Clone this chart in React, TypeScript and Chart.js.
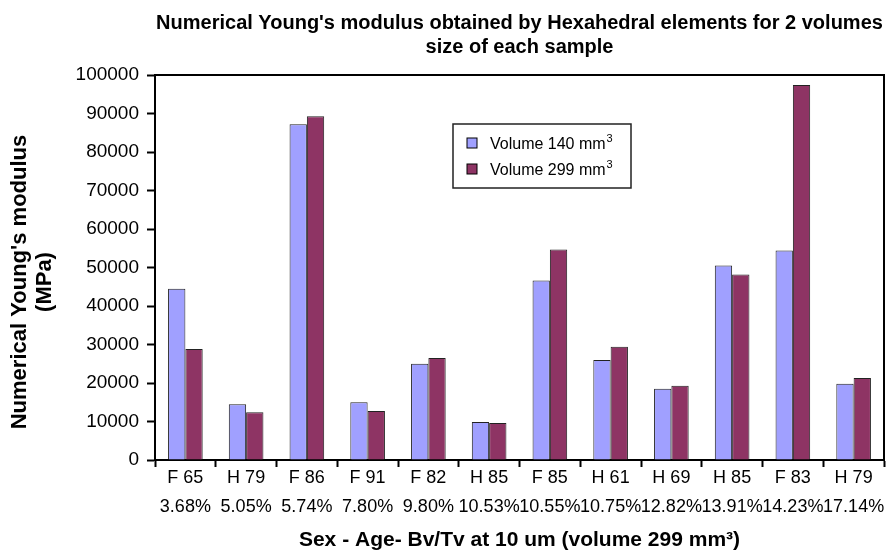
import React, { useEffect, useRef } from "react";
import { Chart, registerables } from "chart.js";

Chart.register(...registerables);

const categories: string[][] = [
  ["F 65", "3.68%"],
  ["H 79", "5.05%"],
  ["F 86", "5.74%"],
  ["F 91", "7.80%"],
  ["F 82", "9.80%"],
  ["H 85", "10.53%"],
  ["F 85", "10.55%"],
  ["H 61", "10.75%"],
  ["H 69", "12.82%"],
  ["H 85", "13.91%"],
  ["F 83", "14.23%"],
  ["H 79", "17.14%"],
];

const volume140: number[] = [44500, 14500, 87200, 15000, 25000, 9900, 46600, 26000, 18500, 50500, 54400, 19800];
const volume299: number[] = [28800, 12400, 89300, 12700, 26500, 9600, 54700, 29400, 19300, 48200, 97400, 21300];

const seriesNames = ["Volume 140 mm", "Volume 299 mm"];
const seriesSup = "3";
const seriesColors = ["#a0a0ff", "#8e3464"];

const titleLines = [
  "Numerical Young's modulus obtained by Hexahedral elements for 2 volumes",
  "size of each sample",
];
const yTitle = ["Numerical Young's modulus", "(MPa)"];
const xTitle = "Sex - Age- Bv/Tv at 10 um (volume 299 mm³)";

const FONT = "'Liberation Sans', Arial, sans-serif";

const framePlugin = {
  id: "frame",
  afterDraw(chart: any) {
    const { ctx, chartArea } = chart;
    ctx.save();
    ctx.strokeStyle = "#000";
    ctx.lineWidth = 2;
    ctx.beginPath();
    ctx.moveTo(chartArea.left, chartArea.top);
    ctx.lineTo(chartArea.right, chartArea.top);
    ctx.lineTo(chartArea.right, chartArea.bottom);
    ctx.stroke();

    // y-axis title (two lines, rotated)
    ctx.save();
    ctx.fillStyle = "#000";
    ctx.font = `bold 22px ${FONT}`;
    ctx.textAlign = "center";
    ctx.textBaseline = "middle";
    yTitle.forEach((t, i) => {
      ctx.save();
      ctx.translate(20 + i * 25, 282);
      ctx.rotate(-Math.PI / 2);
      ctx.fillText(t, 0, 0);
      ctx.restore();
    });
    ctx.restore();

    // legend box
    const x = 453, y = 124, w = 178, h = 64;
    ctx.fillStyle = "#fff";
    ctx.fillRect(x, y, w, h);
    ctx.lineWidth = 1.5;
    ctx.strokeStyle = "#222";
    ctx.strokeRect(x, y, w, h);
    ctx.textAlign = "left";
    ctx.textBaseline = "alphabetic";
    seriesNames.forEach((lab, i) => {
      const cy = y + 19 + i * 26;
      ctx.fillStyle = seriesColors[i];
      ctx.fillRect(x + 14, cy - 5, 10, 10);
      ctx.lineWidth = 1;
      ctx.strokeStyle = "#000";
      ctx.strokeRect(x + 14, cy - 5, 10, 10);
      ctx.fillStyle = "#000";
      ctx.font = `16px ${FONT}`;
      ctx.fillText(lab, x + 37, cy + 6);
      const wLab = ctx.measureText(lab).width;
      ctx.font = `11px ${FONT}`;
      ctx.fillText(seriesSup, x + 37 + wLab + 1, cy - 1);
    });
    ctx.restore();
  },
};

export default function App() {
  const ref = useRef<HTMLCanvasElement | null>(null);
  useEffect(() => {
    if (!ref.current) return;
    const chart = new Chart(ref.current, {
      type: "bar",
      data: {
        labels: categories,
        datasets: [
          {
            label: seriesNames[0] + "³",
            data: volume140,
            backgroundColor: seriesColors[0],
            borderColor: "#222",
            borderWidth: 1,
          },
          {
            label: seriesNames[1] + "³",
            data: volume299,
            backgroundColor: seriesColors[1],
            borderColor: "#222",
            borderWidth: 1,
          },
        ],
      },
      options: {
        animation: false,
        responsive: false,
        layout: { padding: { left: 0, right: 6, top: 0, bottom: 0 } },
        datasets: {
          bar: { categoryPercentage: 0.57, barPercentage: 1.0 },
        },
        plugins: {
          legend: { display: false },
          tooltip: { enabled: false },
          title: {
            display: true,
            fullSize: false,
            text: titleLines,
            color: "#000",
            font: { family: FONT, size: 20, weight: "bold", lineHeight: 1.2 },
            padding: { top: 11, bottom: 16 },
          },
        },
        scales: {
          x: {
            grid: {
              display: true,
              drawOnChartArea: false,
              drawTicks: true,
              tickLength: 7,
              tickWidth: 2,
              tickColor: "#000",
              offset: true,
            },
            border: { display: true, color: "#000", width: 2 },
            ticks: {
              color: "#000",
              font: { family: FONT, size: 18, lineHeight: 1.6 },
              maxRotation: 0,
              autoSkip: false,
              padding: -3,
            },
            title: {
              display: true,
              text: xTitle,
              color: "#000",
              font: { family: FONT, size: 21, weight: "bold", lineHeight: 1.2 },
              padding: { top: 0, bottom: 1 },
            },
            afterFit: (s: any) => {
              s.height = 94;
            },
          },
          y: {
            min: 0,
            max: 100000,
            ticks: {
              stepSize: 10000,
              color: "#000",
              font: { family: FONT, size: 19 },
              padding: 8,
              callback: (v: any) => String(v),
            },
            grid: {
              display: true,
              drawOnChartArea: false,
              drawTicks: true,
              tickLength: 8,
              tickWidth: 2,
              tickColor: "#000",
            },
            border: { display: true, color: "#000", width: 2 },
            title: { display: false },
            afterFit: (s: any) => {
              s.width = 155;
            },
          },
        },
      },
      plugins: [framePlugin],
    });
    return () => chart.destroy();
  }, []);
  return (
    <div style={{ position: "absolute", left: 0, top: 0, width: 890, height: 554, background: "#fff" }}>
      <canvas ref={ref} width={890} height={554} style={{ width: 890, height: 554 }} />
    </div>
  );
}
